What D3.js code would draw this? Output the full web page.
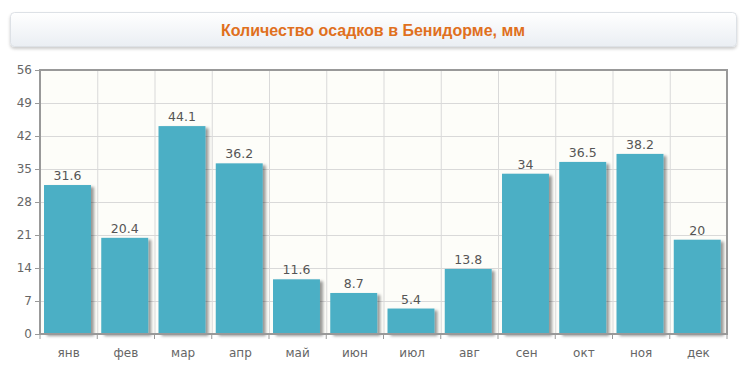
<!DOCTYPE html>
<html lang="ru">
<head>
  <meta charset="UTF-8">
  <title>Количество осадков в Бенидорме</title>
  <script src="https://d3js.org/d3.v7.min.js"></script>
  <style>
    body { margin: 0; background: #fff; }
    .tick text { font-family: "DejaVu Sans", sans-serif; font-size: 12px; fill: #666; }
    .value { font-family: "DejaVu Sans", sans-serif; font-size: 12.5px; fill: #555; }
    .grid line { stroke: #d9d9d9; stroke-width: 1; }
  </style>
</head>
<body>
  <svg width="746" height="373"></svg>
  <script>
    const months = ['янв', 'фев', 'мар', 'апр', 'май', 'июн', 'июл', 'авг', 'сен', 'окт', 'ноя', 'дек'];
    const rainfall = [31.6, 20.4, 44.1, 36.2, 11.6, 8.7, 5.4, 13.8, 34, 36.5, 38.2, 20];
    const yTicks = [0, 7, 14, 21, 28, 35, 42, 49, 56];
    const title = 'Количество осадков в Бенидорме, мм';

    const margin = { top: 70, right: 19, bottom: 39, left: 40 };
    const width = 746 - margin.left - margin.right;
    const height = 373 - margin.top - margin.bottom;

    const svg = d3.select('svg');
    const defs = svg.append('defs');

    const grad = defs.append('linearGradient').attr('id', 'titleGrad')
      .attr('x1', 0).attr('y1', 0).attr('x2', 0).attr('y2', 1);
    grad.append('stop').attr('offset', '0%').attr('stop-color', '#ffffff');
    grad.append('stop').attr('offset', '100%').attr('stop-color', '#eaeef3');

    const shadow = defs.append('filter').attr('id', 'shadow')
      .attr('x', '-20%').attr('y', '-20%').attr('width', '150%').attr('height', '150%');
    shadow.append('feDropShadow').attr('dx', 3).attr('dy', 2).attr('stdDeviation', 1.8)
      .attr('flood-color', '#000').attr('flood-opacity', 0.4);

    const boxShadow = defs.append('filter').attr('id', 'boxShadow')
      .attr('x', '-5%').attr('y', '-30%').attr('width', '110%').attr('height', '170%');
    boxShadow.append('feDropShadow').attr('dx', 0).attr('dy', 2).attr('stdDeviation', 1.5)
      .attr('flood-color', '#000').attr('flood-opacity', 0.2);

    // title box
    svg.append('rect')
      .attr('x', 10.5).attr('y', 12.5).attr('width', 726).attr('height', 34)
      .attr('rx', 4)
      .attr('fill', 'url(#titleGrad)')
      .attr('stroke', '#dde1e6')
      .attr('filter', 'url(#boxShadow)');
    svg.append('text')
      .attr('x', 373).attr('y', 35.5)
      .attr('text-anchor', 'middle')
      .style('font-family', 'Arial, "Liberation Sans", sans-serif')
      .style('font-size', '16px').style('font-weight', 'bold')
      .style('fill', '#e0701d')
      .text(title);

    const chart = svg.append('g').attr('transform', `translate(${margin.left},${margin.top})`);

    const x = d3.scaleBand().domain(months).range([0, width]).padding(0);
    const y = d3.scaleLinear().domain([0, 56]).range([height, 0]);

    chart.append('rect')
      .attr('width', width).attr('height', height)
      .attr('fill', '#fdfdf9');

    // grid lines
    chart.append('g').attr('class', 'grid')
      .call(d3.axisLeft(y).tickValues(yTicks).tickSize(-width).tickFormat(''))
      .call(g => g.select('.domain').remove());
    chart.append('g').attr('class', 'grid')
      .selectAll('line')
      .data(months.slice(1))
      .enter().append('line')
      .attr('x1', d => x(d) + 0.5).attr('x2', d => x(d) + 0.5)
      .attr('y1', 0).attr('y2', height);

    // bars
    const barW = x.bandwidth() * 0.82;
    const barOff = x.bandwidth() * 0.07;
    chart.selectAll('.bar')
      .data(rainfall)
      .enter().append('rect')
      .attr('class', 'bar')
      .attr('x', (d, i) => x(months[i]) + barOff)
      .attr('y', d => y(d))
      .attr('width', barW)
      .attr('height', d => height - y(d))
      .attr('fill', '#4bafc5')
      .attr('filter', 'url(#shadow)');

    // value labels
    chart.selectAll('.value')
      .data(rainfall)
      .enter().append('text')
      .attr('class', 'value')
      .attr('x', (d, i) => x(months[i]) + barOff + barW / 2)
      .attr('y', d => y(d) - 5)
      .attr('text-anchor', 'middle')
      .text(d => d);

    // border
    chart.append('rect')
      .attr('width', width).attr('height', height)
      .attr('fill', 'none').attr('stroke', '#999').attr('stroke-width', 2);

    // y axis
    chart.append('g')
      .call(d3.axisLeft(y).tickValues(yTicks).tickSize(5).tickPadding(3))
      .call(g => g.select('.domain').remove())
      .call(g => g.selectAll('line').attr('stroke', '#999'));

    // x axis
    const xTickPos = months.map(m => x(m)).concat([width]);
    chart.append('g').attr('class', 'xticks')
      .selectAll('line')
      .data(xTickPos)
      .enter().append('line')
      .attr('x1', d => d).attr('x2', d => d)
      .attr('y1', height).attr('y2', height + 5)
      .attr('stroke', '#999');
    chart.append('g')
      .attr('transform', `translate(0,${height})`)
      .call(d3.axisBottom(x).tickSize(0).tickPadding(14))
      .call(g => g.select('.domain').remove());
  </script>
</body>
</html>
